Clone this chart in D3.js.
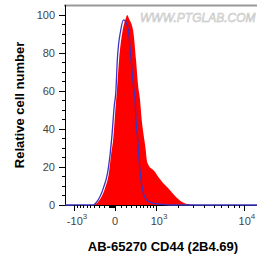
<!DOCTYPE html>
<html>
<head>
<meta charset="utf-8">
<script src="https://cdn.jsdelivr.net/npm/d3@7"></script>
<style>
  html, body { margin: 0; padding: 0; background: #fff; }
  svg { display: block; font-family: "Liberation Sans", Arial, sans-serif; }
</style>
</head>
<body>
<div id="chart"></div>
<script>
// ── Data (fluorescence value, % of mode) ─────────────────────
const sampleX = [-431, -316, -172, -99, -65, -27, 11, 27, 65, 129, 182, 217, 252,
                 338, 407, 456, 507, 552, 596, 664, 694, 764, 861, 964, 1085,
                 1272, 1492, 1841, 2244, 2782, 3167];
const sampleY = [0, 1.6, 8.9, 17.4, 26.3, 35.3, 52.6, 58.9, 76.3, 92.1, 97.9, 100, 98,
                 92.1, 76.3, 63.2, 55.3, 44.7, 37.9, 28.9, 23.7, 20.5, 18.9, 17.4, 14.7,
                 11.6, 8.9, 4.7, 1.6, 0.3, 0];

const controlX = [-1360, -431, -345, -205, -122, -82, -53, -11, 11, 36, 94, 144, 191,
                  237, 294, 345, 384, 407, 449, 482, 533, 596, 694, 851, 1150, 1587, 13350];
const controlY = [0, 0, 1.6, 8.9, 17.4, 26.3, 35.3, 52.6, 58.9, 76.3, 92.1, 97.4, 96,
                  92.1, 76.3, 63.2, 55.3, 44.7, 34.2, 23.7, 13.2, 6.3, 2.6, 1.1, 0.5, 0, 0];

const yTicks = [0, 20, 40, 60, 80, 100];
const xMajor = [-1000, 0, 1000, 10000];
const xLabels = [["-10", "3"], ["0", ""], ["10", "3"], ["10", "4"]];
const xMinor = [-900, -800, -700, -600, -500, -400, -300, -200, -100,
                -90, -80, -70, -60, -50, -40, -30, -20, -10,
                100, 200, 300, 400, 500, 600, 700, 800, 900,
                2000, 3000, 4000, 5000, 6000, 7000, 8000, 9000];

const xTitle = "AB-65270 CD44 (2B4.69)";
const yTitle = "Relative cell number";
const watermark = "WWW.PTGLAB.COM";

// ── Layout ───────────────────────────────────────────────────
const W = 257, H = 264;
const plot = { left: 65, right: 257, top: 5, bottom: 205 };

const svg = d3.select("#chart").append("svg")
  .attr("width", W).attr("height", H);

const x = d3.scaleSymlog().constant(750)
  .domain([-1360, 13350])
  .range([plot.left, plot.right]);

const y = d3.scaleLinear()
  .domain([0, 105.26])
  .range([plot.bottom, plot.top]);

// watermark
svg.append("text")
  .attr("x", 140).attr("y", 22)
  .attr("font-size", 12)
  .attr("font-style", "italic")
  .attr("fill", "#f2f2f2")
  .attr("stroke", "#bcbcbc")
  .attr("stroke-width", 0.5)
  .text(watermark);

// sample histogram (red fill)
const sample = sampleX.map((v, i) => ({ v, c: sampleY[i] }));
const control = controlX.map((v, i) => ({ v, c: controlY[i] }));

svg.append("path")
  .datum(sample)
  .attr("fill", "#ff0000")
  .attr("d", d3.area()
    .x(d => x(d.v))
    .y0(y(0))
    .y1(d => y(d.c))
    .curve(d3.curveMonotoneX));

// axes
svg.append("line")
  .attr("x1", plot.left - 1).attr("x2", plot.right)
  .attr("y1", plot.top + 0.5).attr("y2", plot.top + 0.5)
  .attr("stroke", "#999").attr("stroke-width", 2);

svg.append("line")
  .attr("x1", plot.left + 0.5).attr("x2", plot.left + 0.5)
  .attr("y1", plot.top).attr("y2", plot.bottom)
  .attr("stroke", "#000");

svg.append("line")
  .attr("x1", plot.left).attr("x2", plot.right)
  .attr("y1", plot.bottom + 0.5).attr("y2", plot.bottom + 0.5)
  .attr("stroke", "#000");

// control histogram (blue outline)
svg.append("path")
  .datum(control)
  .attr("fill", "none")
  .attr("stroke", "#3b33c4")
  .attr("stroke-width", 1.3)
  .attr("d", d3.line()
    .x(d => x(d.v))
    .y(d => y(d.c))
    .curve(d3.curveMonotoneX));

// y ticks
const yMinor = d3.range(5, 105, 5).filter(v => v % 20 !== 0);
svg.append("g").selectAll("line")
  .data(yTicks)
  .join("line")
    .attr("x1", plot.left - 6).attr("x2", plot.left)
    .attr("y1", d => Math.round(y(d)) + 0.5)
    .attr("y2", d => Math.round(y(d)) + 0.5)
    .attr("stroke", "#000");

svg.append("g").selectAll("line")
  .data(yMinor)
  .join("line")
    .attr("x1", plot.left - 3).attr("x2", plot.left)
    .attr("y1", d => Math.round(y(d)) + 0.5)
    .attr("y2", d => Math.round(y(d)) + 0.5)
    .attr("stroke", "#000");

svg.append("g").selectAll("text")
  .data(yTicks)
  .join("text")
    .attr("x", 55)
    .attr("y", d => y(d) + 4)
    .attr("text-anchor", "end")
    .attr("font-size", 11)
    .attr("fill", "#444")
    .text(d => d);

// x ticks
svg.append("g").selectAll("line")
  .data(xMajor)
  .join("line")
    .attr("x1", d => Math.round(x(d)) + 0.5)
    .attr("x2", d => Math.round(x(d)) + 0.5)
    .attr("y1", plot.bottom).attr("y2", plot.bottom + 6)
    .attr("stroke", "#000");

svg.append("g").selectAll("line")
  .data(xMinor)
  .join("line")
    .attr("x1", d => Math.round(x(d)) + 0.5)
    .attr("x2", d => Math.round(x(d)) + 0.5)
    .attr("y1", plot.bottom).attr("y2", plot.bottom + 3)
    .attr("stroke", "#000");

const xl = svg.append("g").selectAll("text")
  .data(xMajor)
  .join("text")
    .attr("x", d => x(d) + (d === 0 ? 0 : 3))
    .attr("y", 225)
    .attr("text-anchor", "middle")
    .attr("font-size", 11)
    .attr("fill", "#444");

xl.append("tspan").text((d, i) => xLabels[i][0]);
xl.append("tspan")
  .attr("dy", -6)
  .attr("font-size", 8)
  .text((d, i) => xLabels[i][1]);

// titles
svg.append("text")
  .attr("x", 163).attr("y", 251)
  .attr("text-anchor", "middle")
  .attr("font-size", 13)
  .attr("font-weight", "bold")
  .text(xTitle);

svg.append("text")
  .attr("transform", "translate(24,105) rotate(-90)")
  .attr("text-anchor", "middle")
  .attr("font-size", 13)
  .attr("font-weight", "bold")
  .text(yTitle);
</script>
</body>
</html>
